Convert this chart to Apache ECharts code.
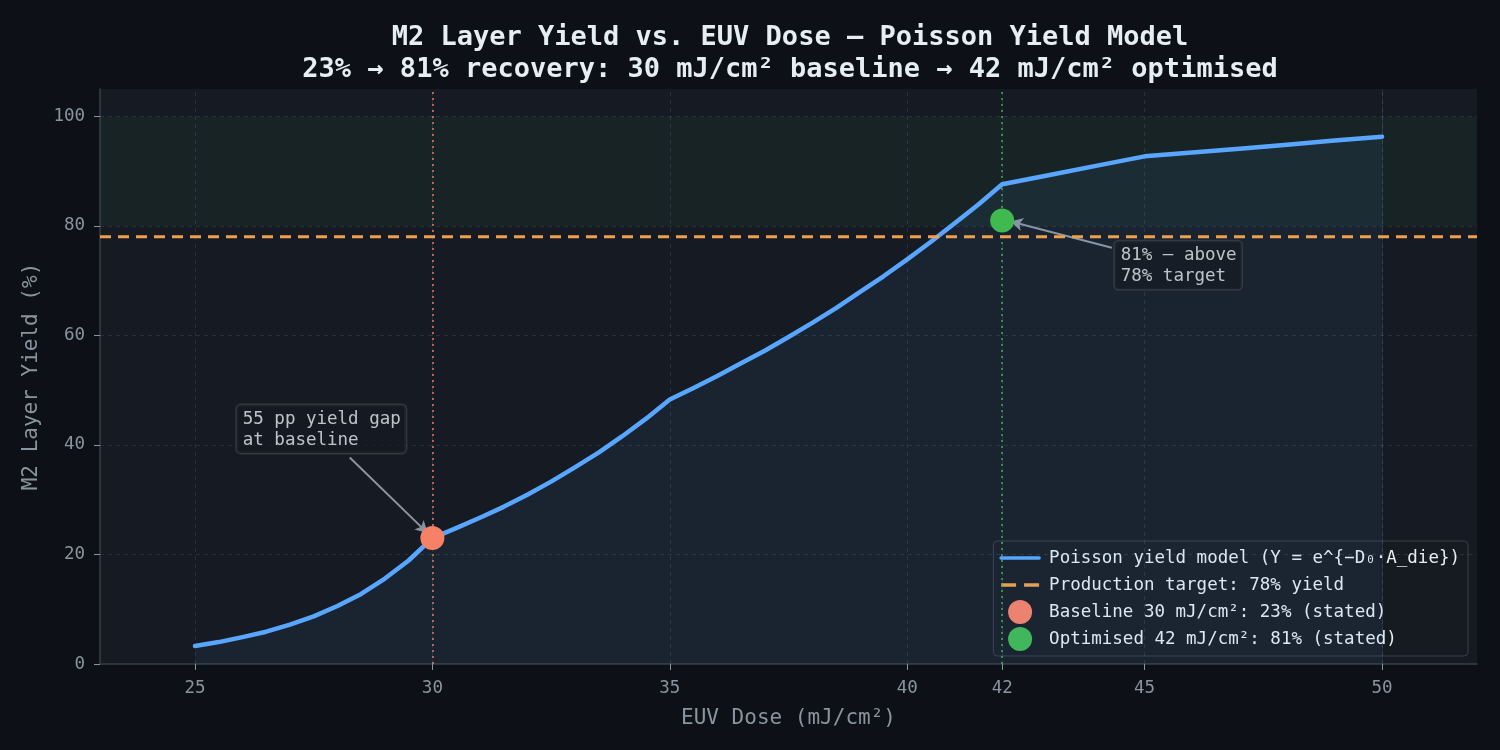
<!DOCTYPE html>
<html>
<head>
<meta charset="utf-8">
<script src="https://cdn.jsdelivr.net/npm/echarts@6/dist/echarts.min.js"></script>
<style>
html,body{margin:0;padding:0;background:#0d1117;}
#chart{width:1500px;height:750px;}
</style>
</head>
<body>
<div id="chart"></div>
<script>
// ---- data ----
const doses = [25,25.5,26,26.5,27,27.5,28,28.5,29,29.5,30,30.5,31,31.5,32,32.5,33,33.5,34,34.5,35,
  35.5,36,36.5,37,37.5,38,38.5,39,39.5,40,40.5,41,41.5,42,43,44,45,46,47,48,49,50];
const yieldPct = [3.3,4.0,4.9,5.9,7.2,8.7,10.6,12.8,15.6,18.9,23.0,24.8,26.7,28.7,30.9,33.3,35.9,38.6,41.6,44.8,48.3,
  50.4,52.6,54.9,57.2,59.7,62.3,65.0,67.9,70.8,73.9,77.1,80.5,83.9,87.6,89.3,91.0,92.7,93.4,94.1,94.8,95.6,96.3];
const xTicks = [25,30,35,40,42,45,50];
const yTicks = [0,20,40,60,80,100];
const targetYield = 78;
const baseline = [30, 23];
const optimised = [42, 81];
const bandRange = [80, 100];
const titleLines = ['M2 Layer Yield vs. EUV Dose — Poisson Yield Model',
  '23% → 81% recovery: 30 mJ/cm² baseline → 42 mJ/cm² optimised'];
const seriesNames = ['Poisson yield model (Y = e^{−D₀·A_die})','Production target: 78% yield',
  'Baseline 30 mJ/cm²: 23% (stated)','Optimised 42 mJ/cm²: 81% (stated)'];
const notes = [
  {text:'55 pp yield gap\nat baseline', at:[25.88, 47.3], from:[28.26, 37.7], to:[29.9, 23.9]},
  {text:'81% — above\n78% target', at:[44.37, 77.2], from:[44.31, 76.0], to:[42.18, 80.8]}
];

const FONT = '"DejaVu Sans Mono", monospace';
const FS = 17.5;
const chart = echarts.init(document.getElementById('chart'));
const gridLineStyle = {color:'rgba(139,148,158,0.18)', type:[4,4], width:1};

const option = {
  backgroundColor:'#0d1117',
  animation:false,
  title:{
    text: titleLines.join('\n'),
    left:785, textAlign:'center', top:17,
    textStyle:{color:'#e6edf3', fontFamily:FONT, fontSize:27, fontWeight:'bold', lineHeight:32}
  },
  grid:{left:100, right:23, top:89, bottom:86, show:true, backgroundColor:'#161a22', borderWidth:0},
  legend:{
    orient:'vertical', right:32, bottom:94,
    data:[
      {name:seriesNames[0], itemStyle:{opacity:0}, lineStyle:{width:3.5}},
      {name:seriesNames[1], itemStyle:{opacity:0}, lineStyle:{width:3.5, type:[15,8]}},
      {name:seriesNames[2]},
      {name:seriesNames[3]}
    ],
    backgroundColor:'#161b22', borderColor:'#3a3f47', borderWidth:1, borderRadius:4,
    padding:[5,8,5,6], itemWidth:38, itemHeight:24, itemGap:3,
    textStyle:{color:'#e6edf3', fontFamily:FONT, fontSize:FS, lineHeight:24, padding:[0,0,0,5]}
  },
  xAxis:{
    type:'value', min:23, max:52,
    name:'EUV Dose (mJ/cm²)', nameLocation:'middle', nameGap:44,
    nameTextStyle:{color:'#8b949e', fontFamily:FONT, fontSize:21},
    axisLine:{lineStyle:{color:'#3a3f47', width:1.5}},
    axisTick:{show:true, length:6, customValues:xTicks, lineStyle:{color:'#8b949e'}},
    axisLabel:{customValues:xTicks, color:'#8b949e', fontFamily:FONT, fontSize:FS, margin:15},
    splitLine:{show:false}
  },
  yAxis:{
    type:'value', min:0, max:105,
    name:'M2 Layer Yield (%)', nameLocation:'middle', nameGap:58, nameRotate:90,
    nameTextStyle:{color:'#8b949e', fontFamily:FONT, fontSize:21},
    axisLine:{show:true, lineStyle:{color:'#3a3f47', width:1.5}},
    axisTick:{show:true, length:6, customValues:yTicks, lineStyle:{color:'#8b949e'}},
    axisLabel:{customValues:yTicks, color:'#8b949e', fontFamily:FONT, fontSize:FS, margin:15},
    splitLine:{show:false}
  },
  series:[
    {
      name:seriesNames[0], type:'line',
      data: doses.map((d,i)=>[d, yieldPct[i]]),
      symbol:'none', smooth:false,
      lineStyle:{color:'#58a6ff', width:4.5, join:'round', cap:'round'},
      itemStyle:{color:'#58a6ff'},
      areaStyle:{color:'rgba(88,166,255,0.1)'},
      z:5,
      markArea:{
        silent:true,
        itemStyle:{color:'rgba(63,185,80,0.06)'},
        data:[[{yAxis:bandRange[0]},{yAxis:bandRange[1]}]]
      },
      markLine:{
        silent:true, symbol:['none','none'], animation:false,
        label:{show:false},
        data:[
          ...xTicks.map(v=>({xAxis:v, lineStyle:gridLineStyle})),
          ...yTicks.filter(v=>v>0).map(v=>({yAxis:v, lineStyle:gridLineStyle})),
          {xAxis:baseline[0], lineStyle:{color:'rgba(247,129,102,0.7)', type:[2,4], width:2}},
          {xAxis:optimised[0], lineStyle:{color:'rgba(63,185,80,0.7)', type:[2,4], width:2}},
          {xAxis:doses[doses.length-1], lineStyle:{color:'rgba(88,166,255,0.15)', type:'solid', width:1}}
        ]
      }
    },
    {
      name:seriesNames[1], type:'line',
      data:[[23,targetYield],[52,targetYield]],
      symbol:'none',
      lineStyle:{color:'#f0a04b', width:3, type:[11,7]},
      itemStyle:{color:'#f0a04b'},
      z:6
    },
    {
      name:seriesNames[2], type:'scatter',
      data:[baseline], symbol:'circle', symbolSize:24,
      itemStyle:{color:'#f78166', opacity:1}, z:10
    },
    {
      name:seriesNames[3], type:'scatter',
      data:[optimised], symbol:'circle', symbolSize:24,
      itemStyle:{color:'#3fb950', opacity:1}, z:10
    },
    {
      name:'annotations', type:'scatter',
      data: notes.map(n=>({value:n.at, name:n.text})),
      symbolSize:0, z:12,
      label:{
        show:true, position:[0,0], formatter:p=>p.name,
        color:'#e6edf3', fontFamily:FONT, fontSize:FS, lineHeight:21,
        backgroundColor:'rgba(22,27,34,0.92)', borderColor:'#3a3f47', borderWidth:1.5, borderRadius:4,
        padding:[4,5,2,6]
      },
      markLine:{
        silent:true, symbol:['none','arrow'], symbolSize:[10,12],
        label:{show:false},
        lineStyle:{color:'#8b949e', width:2, type:'solid'},
        data: notes.map(n=>[{coord:n.from},{coord:n.to}])
      }
    }
  ]
};
chart.setOption(option);
</script>
</body>
</html>
